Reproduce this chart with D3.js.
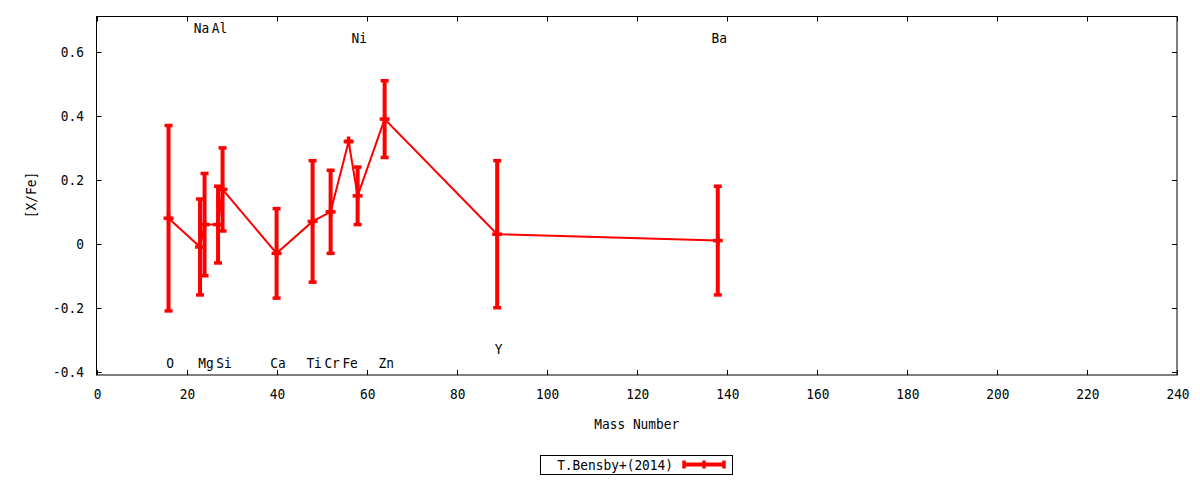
<!DOCTYPE html>
<html>
<head>
<meta charset="utf-8">
<script src="https://cdn.jsdelivr.net/npm/d3@7"></script>
<style>
  body { margin: 0; background: #fff; }
  svg text { font-family: "DejaVu Sans Mono", monospace; font-size: 14.5px; fill: #000; }
</style>
</head>
<body>
<div id="chart"></div>
<script>
var elements, mass, xfe, err, labelY, xTicks, yTicks, legendName;

// element, mass number (most abundant isotope), [X/Fe] and its error
elements = ["O", "Na", "Mg", "Al", "Si", "Ca", "Ti", "Cr", "Fe", "Ni", "Zn", "Y", "Ba"];
mass = [16, 23, 24, 27, 28, 40, 48, 52, 56, 58, 64, 89, 138];
xfe = [0.08, -0.01, 0.06, 0.06, 0.17, -0.03, 0.07, 0.10, 0.32, 0.15, 0.39, 0.03, 0.01];
err = [0.29, 0.15, 0.16, 0.12, 0.13, 0.14, 0.19, 0.13, 0.0, 0.09, 0.12, 0.23, 0.17];
// height (in [X/Fe]) where each element name is written
labelY = [-0.374, 0.675, -0.374, 0.675, -0.374, -0.374, -0.374, -0.374, -0.374, 0.645, -0.374, -0.33, 0.645];

xTicks = [0, 20, 40, 60, 80, 100, 120, 140, 160, 180, 200, 220, 240];
yTicks = [-0.4, -0.2, 0, 0.2, 0.4, 0.6];
legendName = "T.Bensby+(2014)";

// gnuplot's text is a narrow mono face, squeeze DejaVu Sans Mono a bit
var squeeze = function(px, py, rot) {
  return "translate(" + px + "," + py + ")" + (rot ? " rotate(" + rot + ")" : "") + " scale(0.885,1)";
};

var drawChart = function() {
  var W = 1200, H = 480, pl = 96.5, pr = 1177, pt = 16.5, pb = 375, cap = 4;
  var x, y, svg, g, eb, lg, line, pts;

  x = d3.scaleLinear().domain([0, 240]).range([pl, pr]);
  y = d3.scaleLinear().domain([-0.4105, 0.711]).range([pb, pt]);

  svg = d3.select("#chart").append("svg").attr("width", W).attr("height", H);

  pts = elements.map(function(e, i) {
    return { name: e, m: mass[i], v: xfe[i], e: err[i], ly: labelY[i] };
  });

  // axes, ticks inward and mirrored
  g = svg.append("g");
  g.selectAll(".xt").data(xTicks).enter().append("path").attr("class", "xt")
    .attr("d", function(d) {
      var px = Math.round(x(d)) + 0.5;
      return "M" + px + "," + pb + "v-5M" + px + "," + pt + "v5";
    }).attr("stroke", "#000").attr("stroke-width", 1);
  g.selectAll(".yt").data(yTicks).enter().append("path").attr("class", "yt")
    .attr("d", function(d) {
      var py = Math.round(y(d)) + 0.5;
      return "M" + pl + "," + py + "h5M" + pr + "," + py + "h-5";
    }).attr("stroke", "#000").attr("stroke-width", 1);
  g.selectAll(".xl").data(xTicks).enter().append("text").attr("class", "xl")
    .attr("transform", function(d) { return squeeze(x(d) + 1, 399); })
    .attr("text-anchor", "middle").text(function(d) { return d; });
  g.selectAll(".yl").data(yTicks).enter().append("text").attr("class", "yl")
    .attr("transform", function(d) { return squeeze(84, y(d) + 5); })
    .attr("text-anchor", "end").text(function(d) { return d === 0 ? "0" : d3.format(".1f")(d).replace("\u2212", "-"); });
  g.append("rect").attr("x", pl).attr("y", pt).attr("width", pr - pl).attr("height", pb - pt)
    .attr("fill", "none").attr("stroke", "#000").attr("stroke-width", 1);

  g.append("text").text("Mass Number").attr("transform", squeeze((pl + pr) / 2, 429)).attr("text-anchor", "middle");
  g.append("text").text("[X/Fe]").attr("transform", squeeze(36, 195, -90)).attr("text-anchor", "middle");

  // element names
  svg.append("g").selectAll("text").data(pts).enter().append("text")
    .attr("transform", function(d) { return squeeze(x(d.m) + 1.5, y(d.ly) + 5); })
    .attr("text-anchor", "middle").text(function(d) { return d.name; });

  // connecting line
  line = d3.line().x(function(d) { return x(d.m); }).y(function(d) { return y(d.v); });
  svg.append("path").datum(pts).attr("d", line).attr("fill", "none").attr("stroke", "#ff0000").attr("stroke-width", 2);

  // error bars with caps and the "+" point
  eb = svg.append("g").attr("stroke", "#ff0000");
  eb.selectAll(".bar").data(pts).enter().append("line").attr("class", "bar")
    .attr("x1", function(d) { return x(d.m); }).attr("x2", function(d) { return x(d.m); })
    .attr("y1", function(d) { return y(d.v + d.e); }).attr("y2", function(d) { return y(d.v - d.e); })
    .attr("stroke-width", 4);
  eb.selectAll(".ct").data(pts).enter().append("line").attr("class", "ct")
    .attr("x1", function(d) { return x(d.m) - cap; }).attr("x2", function(d) { return x(d.m) + cap; })
    .attr("y1", function(d) { return y(d.v + d.e); }).attr("y2", function(d) { return y(d.v + d.e); })
    .attr("stroke-width", 3.5);
  eb.selectAll(".cb").data(pts).enter().append("line").attr("class", "cb")
    .attr("x1", function(d) { return x(d.m) - cap; }).attr("x2", function(d) { return x(d.m) + cap; })
    .attr("y1", function(d) { return y(d.v - d.e); }).attr("y2", function(d) { return y(d.v - d.e); })
    .attr("stroke-width", 3.5);
  eb.selectAll(".ph").data(pts).enter().append("line").attr("class", "ph")
    .attr("x1", function(d) { return x(d.m) - cap - 1; }).attr("x2", function(d) { return x(d.m) + cap + 1; })
    .attr("y1", function(d) { return y(d.v); }).attr("y2", function(d) { return y(d.v); })
    .attr("stroke-width", 3.5);
  eb.selectAll(".pv").data(pts).enter().append("line").attr("class", "pv")
    .attr("x1", function(d) { return x(d.m); }).attr("x2", function(d) { return x(d.m); })
    .attr("y1", function(d) { return y(d.v) - 5; }).attr("y2", function(d) { return y(d.v) + 5; })
    .attr("stroke-width", 3.5);

  // legend
  lg = svg.append("g");
  lg.append("rect").attr("x", 540.5).attr("y", 455.5).attr("width", 192).attr("height", 19)
    .attr("fill", "#fff").attr("stroke", "#000").attr("stroke-width", 1);
  lg.append("text").text(legendName).attr("transform", squeeze(673, 470)).attr("text-anchor", "end");
  lg.append("line").attr("x1", 684).attr("x2", 724).attr("y1", 464.5).attr("y2", 464.5)
    .attr("stroke", "#ff0000").attr("stroke-width", 4);
  lg.selectAll(".lc").data([684, 704, 724]).enter().append("line").attr("class", "lc")
    .attr("x1", function(d) { return d; }).attr("x2", function(d) { return d; })
    .attr("y1", 460.5).attr("y2", 468.5).attr("stroke", "#ff0000").attr("stroke-width", 3.5);
};

drawChart();
</script>
</body>
</html>
